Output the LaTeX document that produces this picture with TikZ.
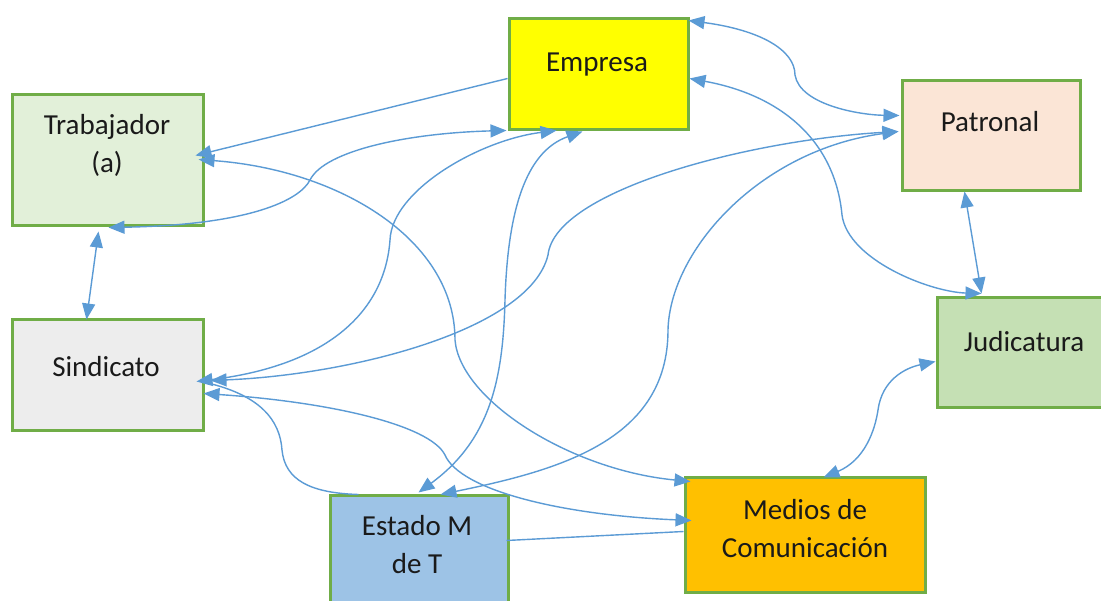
\documentclass[tikz,border=0pt]{standalone}
\usepackage{fontspec}
\setmainfont{Carlito}
\usetikzlibrary{arrows.meta,calc}
\definecolor{conn}{HTML}{5B9BD5}
\definecolor{bord}{HTML}{70AD47}
\definecolor{txt}{HTML}{1A1A1A}
\definecolor{ftrab}{HTML}{E2F0D9}
\definecolor{femp}{HTML}{FFFF00}
\definecolor{fpat}{HTML}{FBE5D6}
\definecolor{fsind}{HTML}{EDEDED}
\definecolor{fjud}{HTML}{C5E0B4}
\definecolor{fest}{HTML}{9DC3E6}
\definecolor{fmed}{HTML}{FFC000}
\begin{document}
\begin{tikzpicture}[x=1pt,y=-1pt,
  box/.style={draw=bord, line width=3pt, inner sep=0pt},
  lbl/.style={font=\fontsize{29}{38}\selectfont, align=center, inner sep=0pt, text=txt},
  link/.style={draw=conn, line width=1.4pt},
  both/.style={link, {Triangle[length=16pt,width=13pt]}-{Triangle[length=16pt,width=13pt]}},
  toend/.style={link, -{Triangle[length=16pt,width=13pt]}}]
\useasboundingbox (0,0) rectangle (1101,601);
\fill[white] (0,0) rectangle (1101,601);
\clip (0,0) rectangle (1101,601);

% boxes
\node[box, fill=ftrab, minimum width=191pt, minimum height=131pt] (trab) at (107.5,160.5) {};
\node[box, fill=femp,  minimum width=179pt, minimum height=111pt] (emp)  at (598.5,74.5) {};
\node[box, fill=fpat,  minimum width=178pt, minimum height=110pt] (pat)  at (991,136) {};
\node[box, fill=fsind, minimum width=191pt, minimum height=111pt] (sind) at (107.5,375.5) {};
\node[box, fill=fjud,  minimum width=176pt, minimum height=110pt] (jud)  at (1025,353) {};
\node[box, fill=fest,  minimum width=178pt, minimum height=110pt] (est)  at (419,551) {};
\node[box, fill=fmed,  minimum width=240pt, minimum height=114pt] (med)  at (805,535) {};

% texts
\node[lbl] (trabT) at (107,146.4) {\strut Trabajador\\\strut (a)};
\node[lbl] (empT)  at (597,64.4) {\strut Empresa};
\node[lbl] (patT)  at (990,124.4) {\strut Patronal};
\node[lbl] (sindT) at (106,369.4) {\strut Sindicato};
\node[lbl] (judT)  at (1024,344.4) {\strut Judicatura};
\node[lbl] (estT)  at (417,546.4) {\strut Estado M\\\strut de T};
\node[lbl] (medT)  at (805,530.4) {\strut Medios de\\\strut Comunicaci\'on};

% connectors
% Empresa -> Trabajador
\draw[toend] ($(emp.north west)+(0,61)$) -- ($(trab.north west)+(185,62)$);
% Trabajador <-> Medios
\draw[both] ($(trab.north west)+(188,66)$) .. controls (340,170) and (455,240) .. (455,340)
  .. controls (460,400) and (570,470) .. ($(med.north west)+(7,5)$);
% Trabajador <-> Empresa
\draw[both] ($(trab.north west)+(98,134)$) .. controls (250,225) and (300,200) .. (310,180)
  .. controls (325,150) and (410,133) .. ($(emp.north west)+(-1,113)$);
% Trabajador <-> Sindicato
\draw[both] ($(trab.north west)+(88,138)$) -- ($(sind.north west)+(76,1)$);
% Sindicato <-> Empresa
\draw[both] ($(sind.north west)+(186,63)$) .. controls (330,365) and (385,310) .. (390,240)
  .. controls (392,190) and (480,140) .. ($(emp.north west)+(49,113)$);
% Empresa <-> Estado
\draw[both] ($(emp.north west)+(75,114)$) .. controls (530,150) and (508,200) .. (505,300)
  .. controls (503,380) and (490,440) .. ($(est.north west)+(90,-2)$);
% Sindicato <-> Patronal
\draw[both] ($(sind.north west)+(200,62)$) .. controls (350,375) and (530,330) .. (548,255)
  .. controls (555,190) and (750,140) .. ($(pat.north west)+(-2,52)$);
% Estado <-> Patronal
\draw[both] ($(est.north west)+(112,0)$) .. controls (560,470) and (668,440) .. (668,330)
  .. controls (670,250) and (760,150) .. ($(pat.north west)+(-2,52)$);
% Empresa <-> Patronal
\draw[both] ($(emp.north west)+(181,3)$) .. controls (760,30) and (795,50) .. (795,75)
  .. controls (800,105) and (860,115) .. ($(pat.north west)+(-1,36)$);
% Empresa <-> Judicatura
\draw[both] ($(emp.north west)+(182,61)$) .. controls (780,95) and (835,140) .. (842,215)
  .. controls (848,260) and (930,292) .. ($(jud.north west)+(46,-3)$);
% Patronal <-> Judicatura
\draw[both] ($(pat.north west)+(64,112)$) -- ($(jud.north west)+(46,-3)$);
% Judicatura <-> Medios
\draw[both] ($(jud.north west)+(0,65)$) .. controls (905,368) and (882,380) .. (878,410)
  .. controls (875,430) and (865,460) .. ($(med.north west)+(140,1)$);
% Sindicato -- Estado
\draw[link] ($(sind.north west)+(195,64)$) .. controls (260,395) and (280,420) .. (282,450)
  .. controls (285,480) and (310,493) .. ($(est.north west)+(30,0)$);
% Sindicato <-> Medios
\draw[both] ($(sind.north west)+(193,75)$) .. controls (330,402) and (430,425) .. (445,455)
  .. controls (460,490) and (560,515) .. ($(med.north west)+(8,44)$);
% Estado -- Medios
\draw[link] ($(est.north west)+(178,46)$) -- ($(med.north west)+(0,55)$);
\end{tikzpicture}
\end{document}
